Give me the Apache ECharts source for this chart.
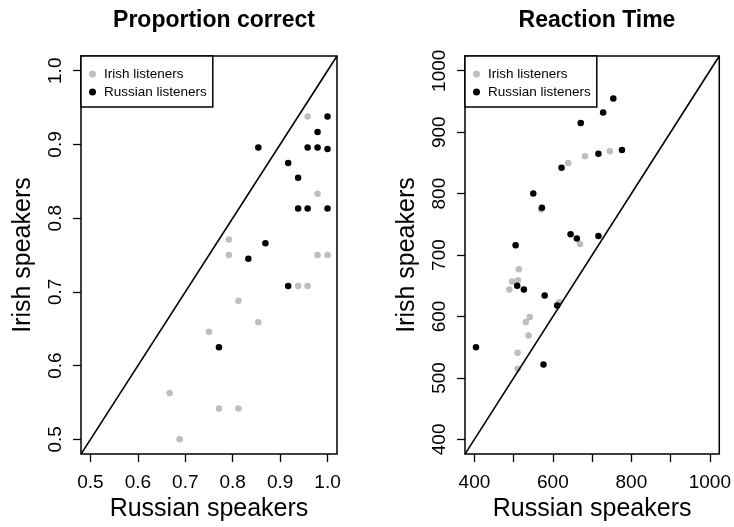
<!DOCTYPE html>
<html><head><meta charset="utf-8">
<script src="https://cdn.jsdelivr.net/npm/echarts@6/dist/echarts.min.js"></script>
<style>html,body{margin:0;padding:0;background:#fff}#c{width:734px;height:527px}</style>
</head><body><div id="c"></div>
<script>
// ---- data ----
const propLim = [0.48, 1.02];
const propTicks = [0.5, 0.6, 0.7, 0.8, 0.9, 1.0];
const propIrishX = [0.958, 0.979, 0.792, 0.792, 0.979, 1.0, 0.938, 0.958, 0.812, 0.854, 0.75, 0.667, 0.771, 0.812, 0.688];
const propIrishY = [0.938, 0.833, 0.771, 0.75, 0.75, 0.75, 0.708, 0.708, 0.688, 0.659, 0.646, 0.563, 0.542, 0.542, 0.5];
const propRussX = [1.0, 0.979, 0.854, 0.958, 0.979, 1.0, 0.917, 0.938, 0.938, 0.958, 1.0, 0.869, 0.833, 0.917, 0.771];
const propRussY = [0.938, 0.917, 0.896, 0.896, 0.896, 0.894, 0.875, 0.855, 0.813, 0.813, 0.813, 0.766, 0.745, 0.708, 0.625];

const rtLim = [376, 1024];
const rtTicks = [400, 500, 600, 700, 800, 900, 1000];
const rtXLabels = [400, 600, 800, 1000];
const rtYLabels = [400, 500, 600, 700, 800, 900, 1000];
const rtIrishX = [745, 682, 639, 669, 570, 513, 496, 511, 489, 616, 541, 531, 538, 510, 510];
const rtIrishY = [869, 861, 850, 718, 774, 677, 657, 659, 644, 623, 599, 591, 569, 541, 515];
const rtRussX = [754, 728, 671, 776, 716, 622, 550, 572, 645, 661, 716, 505, 509, 526, 579, 611, 404, 576];
const rtRussY = [955, 932, 915, 871, 865, 842, 800, 777, 734, 727, 731, 716, 650, 644, 634, 618, 550, 522];

const titles = ['Proportion correct', 'Reaction Time'];
const legendNames = ['Irish listeners', 'Russian listeners'];
const xName = 'Russian speakers', yName = 'Irish speakers';

// ---- chart ----
const FONT = 'Liberation Sans, Arial, Helvetica, sans-serif';
const GRAY = '#bebebe';
const zip = (a, b) => a.map((v, i) => [v, b[i]]);
const chart = echarts.init(document.getElementById('c'), null, {renderer: 'canvas'});

function xAxis(gi, lim, ticks, labels, fmt) {
  return {
    type: 'value', gridIndex: gi, min: lim[0], max: lim[1],
    name: xName, nameLocation: 'middle', nameGap: 37,
    nameTextStyle: {fontFamily: FONT, fontSize: 25, color: '#000'},
    axisLine: {show: false},
    axisTick: {show: true, length: 8, customValues: ticks, lineStyle: {color: '#000', width: 1.3}},
    axisLabel: {customValues: labels, formatter: fmt, fontFamily: FONT, fontSize: 19, color: '#000', margin: 19},
    splitLine: {show: false}
  };
}
function yAxis(gi, lim, ticks, labels, fmt) {
  return {
    type: 'value', gridIndex: gi, min: lim[0], max: lim[1],
    name: yName, nameLocation: 'middle', nameGap: 45,
    nameTextStyle: {fontFamily: FONT, fontSize: 25, color: '#000'},
    axisLine: {show: false},
    axisTick: {show: true, length: 8, customValues: ticks, lineStyle: {color: '#000', width: 1.3}},
    axisLabel: {customValues: labels, formatter: fmt, rotate: 90, fontFamily: FONT, fontSize: 19, color: '#000', margin: 16},
    splitLine: {show: false}
  };
}
function legend(left) {
  return {
    left: left, top: 56, orient: 'vertical', data: legendNames,
    borderColor: '#000', borderWidth: 1.5, borderRadius: 0, backgroundColor: '#fff',
    padding: [11, 6, 8, 8], itemGap: 4, itemWidth: 7, itemHeight: 7, icon: 'circle',
    selectedMode: false, z: 10,
    textStyle: {fontFamily: FONT, fontSize: 13.5, color: '#000', padding: [0, 0, 0, 3]}
  };
}
function pts(name, gi, xs, ys, color) {
  return {type: 'scatter', name: name, xAxisIndex: gi, yAxisIndex: gi, data: zip(xs, ys),
    symbol: 'circle', symbolSize: 6.5, itemStyle: {color: color, opacity: 1}, silent: true, z: 2};
}
function diag(gi, lim) {
  return {type: 'line', name: 'diag', xAxisIndex: gi, yAxisIndex: gi, data: [[lim[0], lim[0]], [lim[1], lim[1]]],
    symbol: 'none', lineStyle: {color: '#000', width: 1.6}, silent: true, z: 3, animation: false};
}

const fmtProp = v => (+v).toFixed(1);
const fmtRt = v => String(Math.round(v));

chart.setOption({
  animation: false,
  backgroundColor: '#fff',
  title: [
    {text: titles[0], left: 209, top: 4, textAlign: 'center', textStyle: {fontFamily: FONT, fontSize: 23, fontWeight: 'bold', color: '#000'}},
    {text: titles[1], left: 592, top: 4, textAlign: 'center', textStyle: {fontFamily: FONT, fontSize: 23, fontWeight: 'bold', color: '#000'}}
  ],
  grid: [
    {left: 81, top: 56, width: 256, height: 400, show: true, borderColor: '#000', borderWidth: 1.5, backgroundColor: 'transparent'},
    {left: 465, top: 56, width: 255, height: 400, show: true, borderColor: '#000', borderWidth: 1.5, backgroundColor: 'transparent'}
  ],
  xAxis: [xAxis(0, propLim, propTicks, propTicks, fmtProp), xAxis(1, rtLim, rtTicks, rtXLabels, fmtRt)],
  yAxis: [yAxis(0, propLim, propTicks, propTicks, fmtProp), yAxis(1, rtLim, rtTicks, rtYLabels, fmtRt)],
  legend: [legend(81), legend(465)],
  series: [
    pts(legendNames[0], 0, propIrishX, propIrishY, GRAY),
    pts(legendNames[1], 0, propRussX, propRussY, '#000'),
    diag(0, propLim),
    pts(legendNames[0], 1, rtIrishX, rtIrishY, GRAY),
    pts(legendNames[1], 1, rtRussX, rtRussY, '#000'),
    diag(1, rtLim)
  ]
});
</script></body></html>
